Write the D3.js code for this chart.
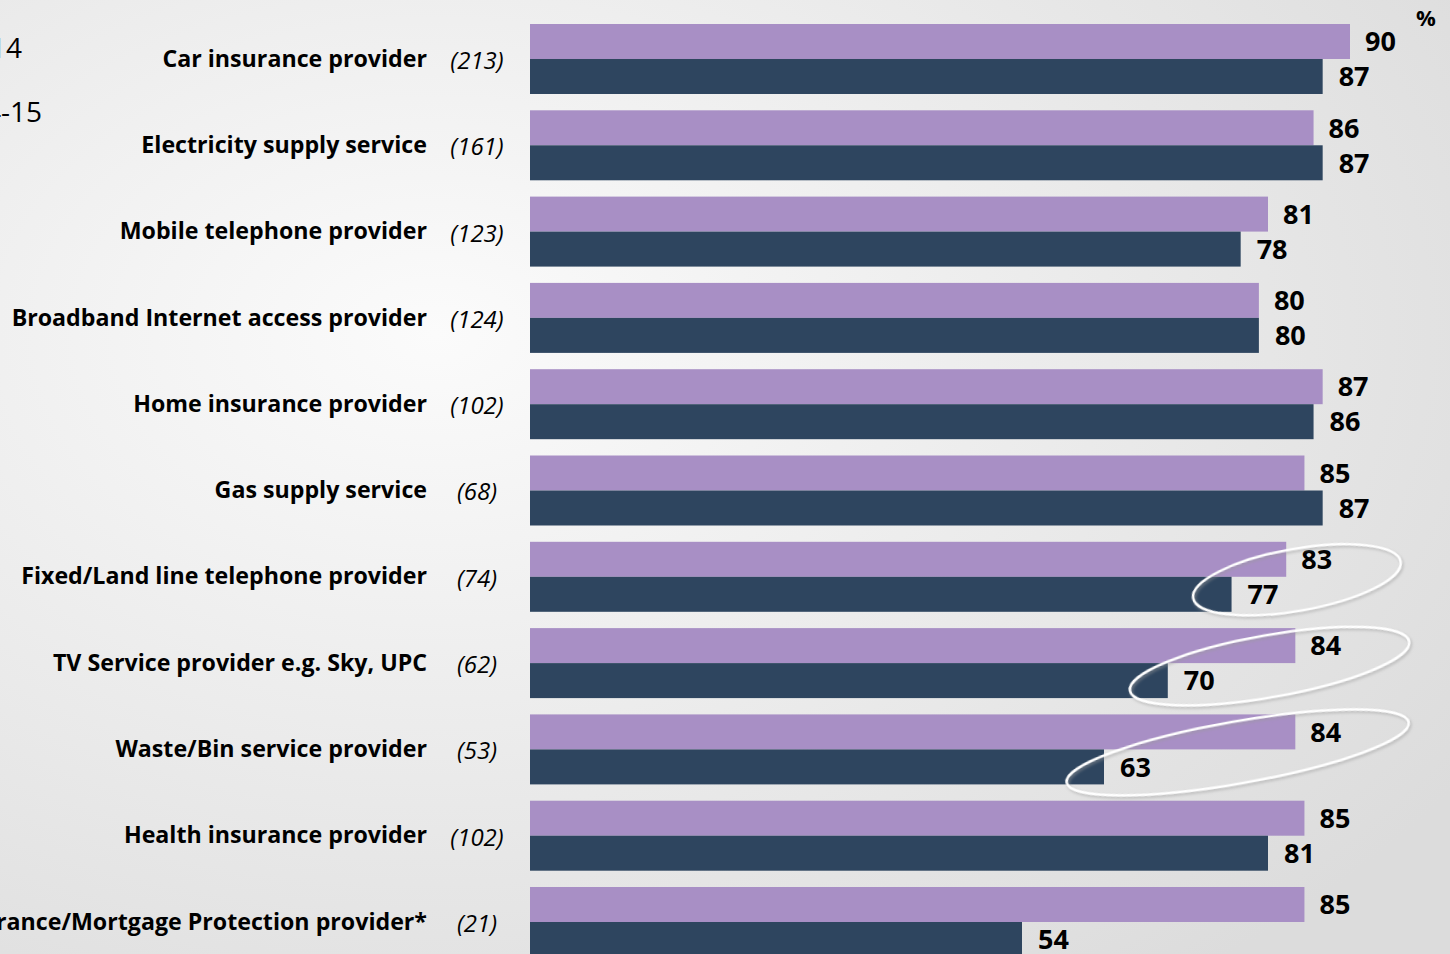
<body style="margin:0"></body>

<script src='https://d3js.org/d3.v7.min.js'></script>
<script>
    const categories = ["Car insurance provider", "Electricity supply service", "Mobile telephone provider",
        "Broadband Internet access provider", "Home insurance provider", "Gas supply service",
        "Fixed/Land line telephone provider", "TV Service provider e.g. Sky, UPC", "Waste/Bin service provider",
        "Health insurance provider", "Life Assurance/Mortgage Protection provider*"];
    const bases = ["(213)", "(161)", "(123)", "(124)", "(102)", "(68)", "(74)", "(62)", "(53)", "(102)", "(21)"];
    const values2015 = [90, 86, 81, 80, 87, 85, 83, 84, 84, 85, 85];
    const values2014 = [87, 87, 78, 80, 86, 87, 77, 70, 63, 81, 54];
    const highlighted = ["Fixed/Land line telephone provider", "TV Service provider e.g. Sky, UPC", "Waste/Bin service provider"];
    const legendLabels = ["2013-14", "2014-15"];

    const width = 1450, height = 954;
    const font = "'Open Sans', sans-serif";

    const svg = d3.select("body").append("svg")
        .attr("width", width)
        .attr("height", height);

    // background
    const defs = svg.append("defs");
    const grad = defs.append("radialGradient").attr("id", "bg")
        .attr("cx", "30%").attr("cy", "35%").attr("r", "85%");
    grad.append("stop").attr("offset", "0%").attr("stop-color", "#fbfbfb");
    grad.append("stop").attr("offset", "100%").attr("stop-color", "#dcdcdc");
    const shadow = defs.append("filter").attr("id", "glow")
        .attr("x", "-20%").attr("y", "-50%").attr("width", "140%").attr("height", "200%");
    shadow.append("feDropShadow").attr("dx", 1).attr("dy", 2).attr("stdDeviation", 1.5)
        .attr("flood-color", "#999").attr("flood-opacity", 0.6);
    svg.append("rect").attr("width", width).attr("height", height).attr("fill", "url(#bg)");

    var x_scale = d3.scaleLinear()
        .domain([0, 90])
        .range([530, 1350]);
    var y_scale = d3.scaleBand()
        .domain(categories)
        .range([24, 957])
        .paddingInner(0.189)
        .paddingOuter(0);
    var sub_scale = d3.scaleBand()
        .domain(["2015", "2014"])
        .range([0, y_scale.bandwidth()]);

    const colors = { "2015": "#a88fc5", "2014": "#2e455f" };
    const rows = categories.map((c, i) => ({ cat: c, base: bases[i], "2015": values2015[i], "2014": values2014[i] }));

    var g = svg.selectAll("g.row")
        .data(rows)
        .enter()
        .append("g")
        .attr("class", "row")
        .attr("transform", d => "translate(0," + y_scale(d.cat) + ")");

    ["2015", "2014"].forEach(function (s) {
        g.append("rect")
            .attr("x", x_scale(0))
            .attr("y", sub_scale(s))
            .attr("width", d => x_scale(d[s]) - x_scale(0))
            .attr("height", sub_scale.bandwidth())
            .attr("fill", colors[s]);
        g.append("text")
            .attr("x", d => x_scale(d[s]) + (s == "2015" ? 15 : 16))
            .attr("y", sub_scale(s) + sub_scale.bandwidth() / 2)
            .attr("dy", ".36em")
            .style("font-family", font)
            .style("font-weight", "bold")
            .style("font-size", "27px")
            .text(d => d[s]);
    });

    // category labels
    g.append("text")
        .attr("x", 427)
        .attr("y", y_scale.bandwidth() / 2)
        .attr("dy", ".33em")
        .style("text-anchor", "end")
        .style("font-family", font)
        .style("font-weight", "bold")
        .style("font-size", "23.2px")
        .text(d => d.cat);
    g.append("text")
        .attr("x", 477)
        .attr("y", y_scale.bandwidth() / 2 + 2)
        .attr("dy", ".33em")
        .style("text-anchor", "middle")
        .style("font-family", font)
        .style("font-style", "italic")
        .style("font-size", "24px")
        .text(d => d.base);

    // highlight ellipses
    svg.selectAll("ellipse")
        .data(rows.filter(d => highlighted.includes(d.cat)))
        .enter()
        .append("ellipse")
        .attr("transform", function (d) {
            const left = x_scale(d["2014"]) - 40, right = x_scale(d["2015"]) + 116;
            const cy = y_scale(d.cat) + y_scale.bandwidth() / 2 + 3;
            return "translate(" + (left + right) / 2 + "," + cy + ") rotate(-10)";
        })
        .attr("rx", d => (x_scale(d["2015"]) + 116 - x_scale(d["2014"]) + 40) / 2)
        .attr("ry", 31)
        .attr("fill", "none")
        .attr("stroke", "white")
        .attr("stroke-width", 2.5)
        .attr("filter", "url(#glow)");

    // unit marker
    svg.append("text")
        .attr("x", 1426).attr("y", 26)
        .style("text-anchor", "middle")
        .style("font-family", font).style("font-weight", "bold").style("font-size", "22px")
        .text("%");

    // legend (cut off at left edge)
    svg.selectAll("text.legend")
        .data(legendLabels)
        .enter()
        .append("text")
        .attr("class", "legend")
        .attr("x", (d, i) => i == 0 ? 22 : 42)
        .attr("y", (d, i) => 58 + i * 64)
        .style("text-anchor", "end")
        .style("font-family", font)
        .style("font-size", "28px")
        .text(d => d);
</script>
